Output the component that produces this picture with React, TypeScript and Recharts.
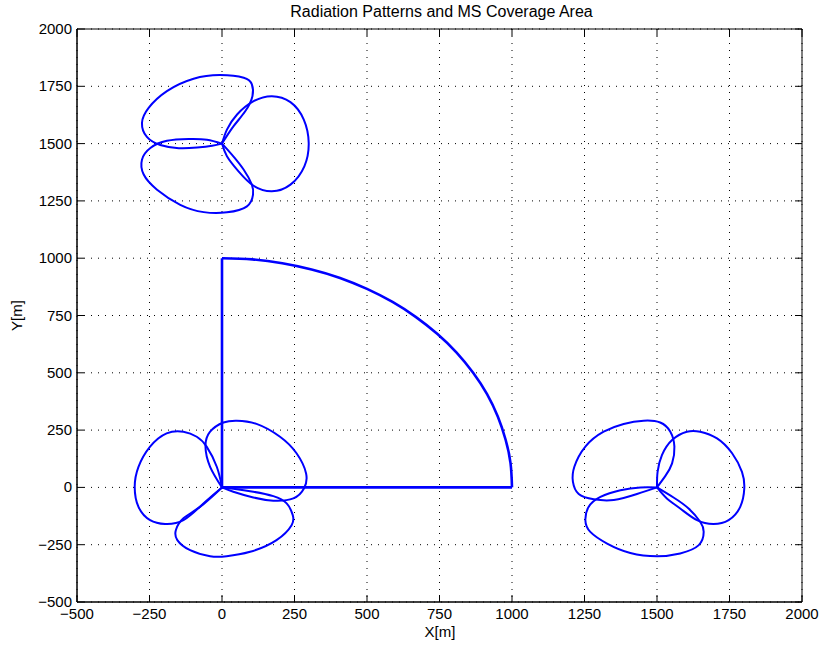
import React from 'react';
import { LineChart, Line, XAxis, YAxis, CartesianGrid, ReferenceArea } from 'recharts';

const TITLE = 'Radiation Patterns and MS Coverage Area';
const X_LABEL = 'X[m]';
const Y_LABEL = 'Y[m]';
const X_TICKS = [-500, -250, 0, 250, 500, 750, 1000, 1250, 1500, 1750, 2000];
const Y_TICKS = [-500, -250, 0, 250, 500, 750, 1000, 1250, 1500, 1750, 2000];

type P = { x: number; y: number };
const pts = (a: number[][]): P[] => a.map(([x, y]) => ({ x, y }));

// Base station at (0,0)
const LOBE_S1_UPPER = pts([[0,0],[-41,90],[-57,178],[-41,243],[5,283],[51,291],[119,277],[200,221],[257,149],[290,61],[283,-4],[246,-48],[177,-58],[108,-44],[39,-19],[0,0]]);
const LOBE_S1_LEFT = pts([[0,0],[-18,90],[-53,178],[-87,221],[-133,243],[-191,236],[-248,178],[-288,90],[-301,3],[-288,-85],[-248,-143],[-196,-160],[-133,-143],[-64,-70],[0,0]]);
const LOBE_S1_LOWER = pts([[0,0],[-76,-85],[-133,-135],[-159,-186],[-154,-230],[-110,-274],[-41,-300],[16,-300],[97,-281],[188,-230],[240,-165],[244,-121],[223,-70],[177,-38],[108,-19],[39,-6],[0,0]]);

// Base station at (1500,0)
const LOBE_S2_UPPER = pts([[1500,0],[1529,50],[1552,105],[1560,178],[1546,243],[1511,283],[1454,291],[1385,277],[1316,243],[1253,178],[1215,90],[1210,25],[1230,-29],[1282,-52],[1351,-55],[1431,-29],[1500,0]]);
const LOBE_S2_RIGHT = pts([[1500,0],[1502,68],[1517,141],[1552,207],[1603,243],[1649,243],[1707,214],[1759,149],[1793,68],[1801,-4],[1787,-85],[1747,-143],[1695,-160],[1638,-143],[1580,-92],[1534,-48],[1500,0]]);
const LOBE_S2_LOWER = pts([[1500,0],[1443,0],[1374,-12],[1305,-41],[1264,-85],[1253,-143],[1270,-194],[1328,-245],[1408,-286],[1500,-300],[1580,-288],[1644,-252],[1661,-194],[1649,-150],[1609,-92],[1557,-44],[1500,0]]);

// Base station at (0,1500)
const LOBE_S3_UPPER = pts([[0,1500],[40,1576],[80,1641],[105,1707],[103,1758],[75,1787],[-6,1799],[-98,1783],[-190,1729],[-253,1656],[-276,1590],[-259,1529],[-213,1494],[-149,1480],[-86,1483],[-34,1491],[0,1500]]);
const LOBE_S3_RIGHT = pts([[0,1500],[17,1561],[52,1627],[109,1685],[172,1707],[236,1681],[282,1605],[299,1503],[284,1401],[236,1321],[172,1292],[109,1316],[57,1379],[17,1445],[0,1500]]);
const LOBE_S3_LOWER = pts([[0,1500],[-52,1517],[-115,1520],[-190,1512],[-247,1481],[-276,1430],[-270,1365],[-224,1299],[-144,1233],[-63,1201],[17,1200],[86,1226],[107,1277],[103,1321],[75,1386],[34,1452],[0,1500]]);

// MS coverage area (quarter disc of radius 1000)
const AREA_EDGES = pts([[0,1000],[0,0],[1000,0]]);
const AREA_ARC = pts([[0,1000],[105,995],[208,978],[309,951],[407,914],[500,866],[588,809],[669,743],[743,669],[809,588],[866,500],[914,407],[951,309],[978,208],[995,105],[1000,0]]);

const LOBES = [
  LOBE_S1_UPPER, LOBE_S1_LEFT, LOBE_S1_LOWER,
  LOBE_S2_UPPER, LOBE_S2_RIGHT, LOBE_S2_LOWER,
  LOBE_S3_UPPER, LOBE_S3_RIGHT, LOBE_S3_LOWER,
];

const FONT = '"Liberation Sans", Arial, Helvetica, sans-serif';
const BLUE = '#0000ff';
const PLOT_W = 725;
const PLOT_H = 573;
const TICK_LEN = 7;
const TICK_FS = 15;

const fmt = (v: number) => String(v).replace('-', '\u2212');

const XTick = (props: any) => {
  const { x, y, payload } = props;
  return (
    <g>
      <line x1={x} y1={y} x2={x} y2={y - TICK_LEN} stroke="#000" />
      <line x1={x} y1={y - PLOT_H} x2={x} y2={y - PLOT_H + TICK_LEN} stroke="#000" />
      <text x={x} y={y + 17} textAnchor="middle" fontSize={TICK_FS} fontFamily={FONT} fill="#000">
        {fmt(payload.value)}
      </text>
    </g>
  );
};

const YTick = (props: any) => {
  const { x, y, payload } = props;
  return (
    <g>
      <line x1={x} y1={y} x2={x + TICK_LEN} y2={y} stroke="#000" />
      <line x1={x + PLOT_W} y1={y} x2={x + PLOT_W - TICK_LEN} y2={y} stroke="#000" />
      <text x={x - 5} y={y + 5} textAnchor="end" fontSize={TICK_FS} fontFamily={FONT} fill="#000">
        {fmt(payload.value)}
      </text>
    </g>
  );
};

const XLabel = () => (
  <text x={440} y={637} textAnchor="middle" fontSize={TICK_FS} fontFamily={FONT} fill="#000">
    {X_LABEL}
  </text>
);

const YLabel = () => (
  <text
    x={21.5}
    y={315.5}
    transform="rotate(-90 21.5 315.5)"
    textAnchor="middle"
    fontSize={TICK_FS}
    fontFamily={FONT}
    fill="#000"
  >
    {Y_LABEL}
  </text>
);

export default function App() {
  return (
    <div style={{ position: 'relative', width: 822, height: 645, fontFamily: FONT }}>
      <style>{'body{margin:0}'}</style>
      <LineChart width={822} height={645} margin={{ top: 29, right: 20, bottom: 0, left: 0 }}>
        <CartesianGrid stroke="#000" strokeDasharray="1 6" />
        <XAxis
          type="number"
          dataKey="x"
          domain={[-500, 2000]}
          ticks={X_TICKS}
          interval={0}
          allowDataOverflow
          height={43}
          tickSize={0}
          tickMargin={0}
          tickLine={false}
          axisLine={{ stroke: '#000' }}
          tick={XTick}
          label={XLabel}
        />
        <YAxis
          type="number"
          domain={[-500, 2000]}
          ticks={Y_TICKS}
          interval={0}
          allowDataOverflow
          width={77}
          tickSize={0}
          tickMargin={0}
          tickLine={false}
          axisLine={{ stroke: '#000' }}
          tick={YTick}
          label={YLabel}
        />
        <ReferenceArea x1={-500} x2={2000} y1={-500} y2={2000} fill="none" stroke="#000" strokeWidth={1} />
        {LOBES.map((lobe, i) => (
          <Line
            key={i}
            data={lobe}
            dataKey="y"
            type="natural"
            stroke={BLUE}
            strokeWidth={2}
            dot={false}
            activeDot={false}
            isAnimationActive={false}
          />
        ))}
        <Line data={AREA_EDGES} dataKey="y" type="linear" stroke={BLUE} strokeWidth={2.6} dot={false} activeDot={false} isAnimationActive={false} />
        <Line data={AREA_ARC} dataKey="y" type="natural" stroke={BLUE} strokeWidth={2.6} dot={false} activeDot={false} isAnimationActive={false} />
      </LineChart>
      <svg
        width={822}
        height={28}
        style={{ position: 'absolute', left: 0, top: 0, pointerEvents: 'none' }}
      >
        <text x={441.5} y={17} textAnchor="middle" fontSize={16} fontFamily={FONT} fill="#000">
          {TITLE}
        </text>
      </svg>
    </div>
  );
}
